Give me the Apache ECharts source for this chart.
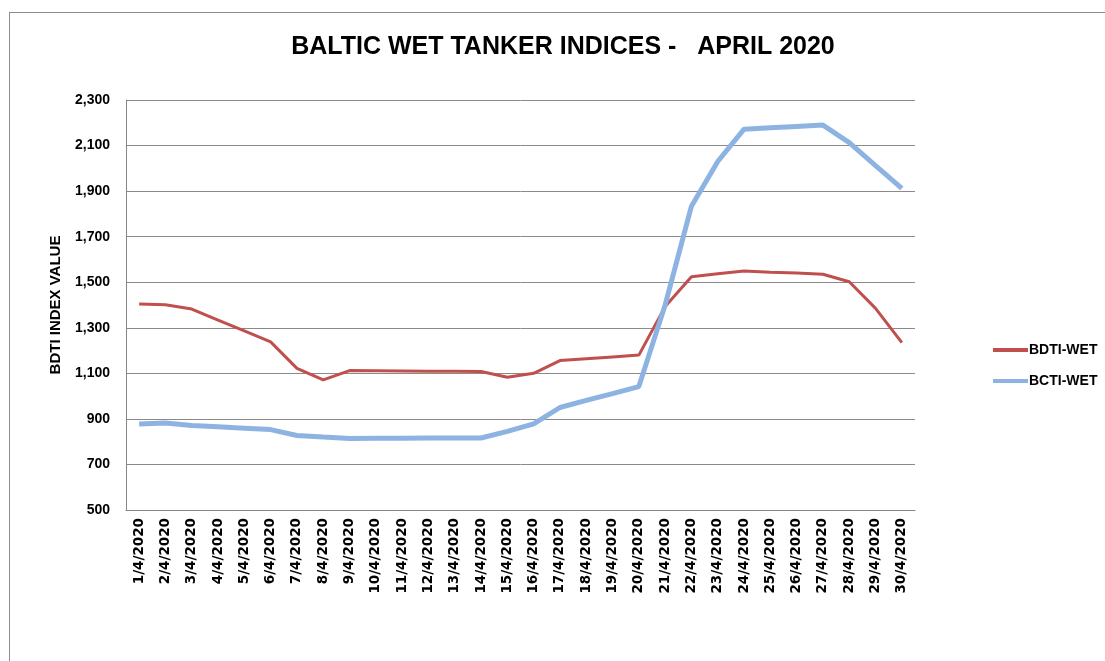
<!DOCTYPE html>
<html>
<head>
    <title>ECharts</title>
    <meta charset="utf-8">
    <style>
        body { margin: 0; background: #fff; }
        #frame { position: absolute; left: 9px; top: 12px; width: 1200px; height: 700px; border: 1px solid #8c8c8c; }
        #main { position: absolute; left: 0; top: 0; width: 1105px; height: 661px; }
    </style>
</head>
<body>
    <div id="frame"></div>
    <div id="main"></div>
    <script type="text/javascript" src="https://cdn.jsdelivr.net/npm/echarts@6/dist/echarts.min.js"></script>
    <script type="text/javascript">
    // dates of April 2020
    var days = ['1/4/2020','2/4/2020','3/4/2020','4/4/2020','5/4/2020','6/4/2020','7/4/2020','8/4/2020','9/4/2020','10/4/2020',
        '11/4/2020','12/4/2020','13/4/2020','14/4/2020','15/4/2020','16/4/2020','17/4/2020','18/4/2020','19/4/2020','20/4/2020',
        '21/4/2020','22/4/2020','23/4/2020','24/4/2020','25/4/2020','26/4/2020','27/4/2020','28/4/2020','29/4/2020','30/4/2020'];
    var bdtiWet = [1404, 1401, 1382, 1334, 1286, 1238, 1122, 1071, 1112, 1111,
        1110, 1109, 1109, 1108, 1083, 1100, 1156, 1164, 1172, 1180,
        1393, 1524, 1537, 1549, 1544, 1540, 1535, 1502, 1385, 1235];
    var bctiWet = [878, 882, 871, 865, 859, 853, 827, 820, 814, 815,
        815, 816, 816, 816, 845, 878, 950, 981, 1011, 1042,
        1400, 1834, 2030, 2172, 2178, 2184, 2190, 2113, 2012, 1912];
    var seriesNames = ['BDTI-WET', 'BCTI-WET'];

    var myChart = echarts.init(document.getElementById('main'));

    var option = {
        title: {
            text: 'BALTIC WET TANKER INDICES -   APRIL 2020',
            left: 558,
            textAlign: 'center',
            top: 30,
            textStyle: { fontFamily: 'Liberation Sans', fontSize: 25, fontWeight: 'bold', color: '#000' }
        },
        legend: {
            orient: 'vertical',
            left: 988,
            top: 338,
            itemGap: 17,
            itemWidth: 35,
            itemHeight: 4,
            icon: 'rect',
            textStyle: { fontFamily: 'Liberation Sans', fontSize: 14, fontWeight: 'bold', color: '#000', padding: [0, 0, 0, -4] },
            data: seriesNames
        },
        grid: { left: 126, right: 190, top: 100, bottom: 151 },
        xAxis: {
            type: 'category',
            data: days,
            boundaryGap: true,
            axisLine: { lineStyle: { color: '#868686' } },
            axisTick: { show: false },
            axisLabel: { rotate: 90, interval: 0, fontFamily: 'DejaVu Sans', fontWeight: 'bold', fontSize: 13.5, color: '#000', margin: 8 }
        },
        yAxis: {
            type: 'value',
            min: 500,
            max: 2300,
            interval: 200,
            name: 'BDTI INDEX VALUE',
            nameLocation: 'middle',
            nameGap: 63,
            nameTextStyle: { fontFamily: 'Liberation Sans', fontSize: 15, fontWeight: 'bold', color: '#000' },
            axisLine: { show: true, lineStyle: { color: '#868686' } },
            axisLabel: {
                fontFamily: 'Liberation Sans', fontWeight: 'bold', fontSize: 14, color: '#000', margin: 16,
                formatter: function (v) { return v.toLocaleString('en-US'); }
            },
            splitLine: { lineStyle: { color: '#8a8a8a', width: 1 } }
        },
        series: [
            {
                name: seriesNames[0], type: 'line', data: bdtiWet,
                symbol: 'none', color: '#c0504d',
                lineStyle: { width: 3, color: '#c0504d' }
            },
            {
                name: seriesNames[1], type: 'line', data: bctiWet,
                symbol: 'none', color: '#8db3e2',
                lineStyle: { width: 5, color: '#8db3e2' }
            }
        ]
    };

    myChart.setOption(option);
    </script>
</body>
</html>
